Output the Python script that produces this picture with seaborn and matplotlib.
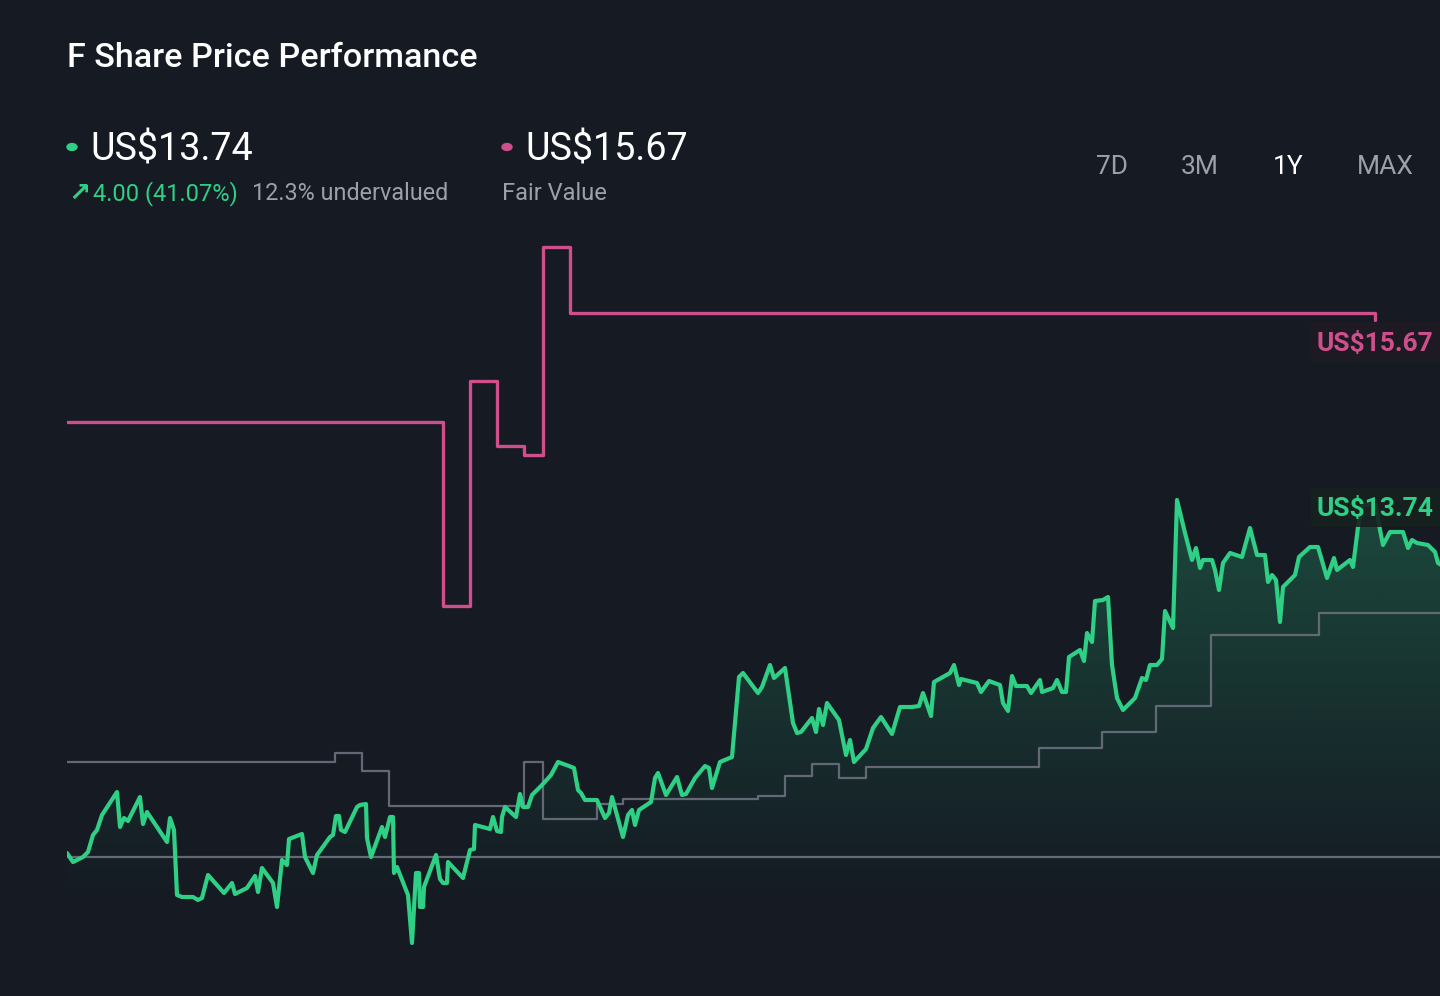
import matplotlib.pyplot as plt
import matplotlib.patches as mpatches
import numpy as np
import pandas as pd
import seaborn as sns

BG = "#151a23"
GREEN = "#2fcf85"
PINK = "#cf4f8d"
GREY_LINE = "#626975"
GREY_TEXT = "#9ba1aa"

# share price, days since start of the 1Y window (US$)
price_day = [0, 1.5, 4, 5.25, 6.5, 7.5, 8.75, 12.5, 13.25, 14.25, 15.25, 18.25, 19, 20, 25, 25.75,
             26.75, 27.5, 28.75, 31.5, 32.75, 33.75, 35.25, 39.25, 41.25, 42, 45, 47, 47.75, 48.75,
             51.5, 52.5, 53.75, 55, 55.5, 58.75, 59.5, 61.5, 62.5, 65.75, 66.5, 67.25, 68, 68.5, 69.5,
             72.5, 73.25, 74.75, 75, 76, 78.75, 79.5, 80.75, 81.5, 81.75, 82.5, 85.25, 86.25, 87.25,
             88, 88.25, 89, 89.25, 92.25, 93.25, 94, 95, 95.25, 99, 100.75, 101.75, 102, 105.75, 106.5,
             107.5, 108.5, 108.75, 109.5, 112.25, 113.25, 114, 115.25, 116.25, 118.75, 121, 122.75,
             125.5, 126.75, 127.75, 128.5, 129.5, 132.5, 134.5, 135.5, 136.25, 139, 140.25, 141.25,
             142, 143, 146, 147, 147.75, 149.75, 152.5, 153.75, 154.75, 157, 159.5, 160.5, 161.25,
             163.25, 166.25, 168, 169, 172.75, 173.75, 175.75, 176.75, 179.5, 181.5, 182.5, 183.5,
             186.25, 187.25, 188, 189, 190, 193, 194.75, 195.75, 196.75, 199.75, 201.5, 203.5, 206.25,
             208.25, 211.25, 213, 214, 216, 216.75, 220.75, 221.75, 223, 223.5, 227.5, 228.5, 230.5,
             233.25, 234, 235.25, 236.25, 237.25, 240, 241, 243.25, 243.75, 246.5, 247.5, 248.75,
             249.75, 250.5, 253.25, 254.25, 255, 256.25, 257, 259, 260.25, 261.25, 262.5, 264, 267,
             268.75, 269.75, 270.75, 272.5, 273.75, 274.5, 276.5, 277.5, 279.5, 281.25, 282.25, 283.25,
             284, 286.25, 287, 288, 289, 290.75, 293.75, 295.75, 297.5, 299.5, 300.25, 301.25, 302.25,
             303.25, 304, 307, 308, 310.75, 312.75, 315, 316.75, 317.5, 320.75, 321.5, 322.75, 323.75,
             327.25, 328.25, 329, 330.75, 334, 335.25, 336.25, 337.5, 340.25, 342, 342.75, 344]
price_usd = [9.78, 9.69, 9.74, 9.79, 9.96, 10.01, 10.16, 10.39, 10.04, 10.13, 10.10, 10.34, 10.07, 10.19, 9.89, 10.13,
             10.01, 9.36, 9.34, 9.34, 9.31, 9.33, 9.56, 9.38, 9.48, 9.37, 9.43, 9.55, 9.39, 9.63,
             9.48, 9.24, 9.71, 9.66, 9.92, 9.97, 9.74, 9.58, 9.76, 9.94, 9.96, 10.15, 10.15, 10.01, 9.99,
             10.24, 10.26, 10.27, 9.93, 9.74, 10.04, 9.94, 10.14, 10.14, 9.58, 9.64, 9.36, 8.88, 9.58,
             9.58, 9.24, 9.24, 9.44, 9.76, 9.52, 9.48, 9.48, 9.69, 9.53, 9.81, 9.82, 10.06, 10.02, 10.14,
             10.00, 9.99, 10.14, 10.24, 10.14, 10.37, 10.24, 10.24, 10.36, 10.46, 10.56, 10.69,
             10.65, 10.63, 10.41, 10.38, 10.31, 10.31, 10.13, 10.18, 10.34, 9.94, 10.16, 10.21,
             10.06, 10.21, 10.29, 10.53, 10.58, 10.36, 10.54, 10.36, 10.37, 10.53, 10.65, 10.63, 10.43,
             10.69, 10.74, 11.54, 11.58, 11.38, 11.44, 11.66, 11.53, 11.63, 11.08, 10.98, 10.99,
             11.13, 10.99, 11.22, 11.06, 11.28, 11.11, 10.76, 10.91, 10.69, 10.82, 11.03, 11.14, 10.97,
             11.24, 11.24, 11.25, 11.38, 11.15, 11.49, 11.58, 11.66, 11.46, 11.52, 11.48, 11.39, 11.50,
             11.46, 11.28, 11.20, 11.55, 11.45, 11.45, 11.38, 11.51, 11.39, 11.43, 11.51, 11.39,
             11.39, 11.74, 11.81, 11.70, 11.98, 11.89, 12.30, 12.31, 12.34, 11.66, 11.33, 11.21, 11.33,
             11.53, 11.51, 11.66, 11.66, 11.72, 12.20, 12.03, 13.31, 12.98, 12.71, 12.83, 12.63,
             12.71, 12.71, 12.61, 12.41, 12.68, 12.78, 12.74, 13.03, 12.76, 12.76, 12.49, 12.56, 12.51,
             12.09, 12.44, 12.56, 12.74, 12.84, 12.84, 12.53, 12.73, 12.61, 12.71, 12.64, 13.04, 13.26,
             13.26, 13.01, 12.86, 12.99, 12.99, 12.83, 12.91, 12.88, 12.86, 12.79, 12.68, 12.65]

# fair value estimate (step changes)
fair_day = [0, 94, 100.75, 107.5, 114.25, 119, 125.75, 327]
fair_usd = [14.09, 12.25, 14.50, 13.85, 13.76, 15.84, 15.18, 15.11]

# grey comparison series (step changes)
grey_day = [0, 67, 73.75, 80.5, 114.25, 119, 132.5, 139, 172.75, 179.5, 186.25, 193, 199.75,
            243, 258.75, 272.25, 286, 313, 345]
grey_usd = [10.69, 10.78, 10.60, 10.25, 10.69, 10.12, 10.27, 10.32, 10.35, 10.55, 10.67, 10.53,
            10.64, 10.83, 10.99, 11.25, 11.96, 12.18, 12.18]

start_price = 9.74
last_price = 13.74
fair_value = 15.67
fill_floor = 9.26

title = "F Share Price Performance"
change_text = "4.00 (41.07%)"
valuation_text = "12.3% undervalued"
periods = ["7D", "3M", "1Y", "MAX"]
active_period = "1Y"

sns.set_theme(style="dark", rc={"axes.facecolor": BG, "figure.facecolor": BG})
plt.rcParams["font.family"] = ["Roboto", "DejaVu Sans"]

W, H = 1440, 996
fig = plt.figure(figsize=(W / 100, H / 100), dpi=100)
fig.patch.set_facecolor(BG)


def fx(x):
    return x / W


def fy(y):
    return 1 - y / H


ax = fig.add_axes([fx(67), 0, 1 - fx(67), 1])
ax.set_facecolor(BG)

df_price = pd.DataFrame({"day": price_day, "price": price_usd})
df_fair = pd.DataFrame({"day": fair_day, "price": fair_usd})
df_grey = pd.DataFrame({"day": grey_day, "price": grey_usd})

# gradient fill under the price line
day = np.array(price_day)
usd = np.array(price_usd)
poly = ax.fill_between(day, np.maximum(usd, fill_floor), fill_floor,
                       facecolor="none", edgecolor="none")
rgb = np.array(plt.matplotlib.colors.to_rgb(GREEN))
grad = np.zeros((256, 1, 4))
grad[:, 0, :3] = rgb
grad[:, 0, 3] = np.linspace(0.0, 0.26, 256)
im = ax.imshow(grad, extent=[day.min(), day.max(), fill_floor, usd.max()],
               origin="lower", aspect="auto", zorder=1, interpolation="bilinear")
im.set_clip_path(poly.get_paths()[0], transform=ax.transData)

ax.axhline(start_price, color=GREY_LINE, lw=1.6, zorder=2)
sns.lineplot(data=df_grey, x="day", y="price", ax=ax, color=GREY_LINE, lw=1.6,
             drawstyle="steps-post", estimator=None, zorder=2)
sns.lineplot(data=df_fair, x="day", y="price", ax=ax, color=PINK, lw=2.4,
             drawstyle="steps-post", estimator=None, zorder=3)
sns.lineplot(data=df_price, x="day", y="price", ax=ax, color=GREEN, lw=3,
             estimator=None, zorder=4)

ax.set_xlim(0, 343.25)
ax.set_ylim(8.35, 18.31)
ax.axis("off")

# header
fig.text(fx(67), fy(67), title, color="white", fontsize=24.6, fontweight="medium")

fig.patches.append(mpatches.Circle((fx(72), fy(147)), 5 / W, color=GREEN,
                                   transform=fig.transFigure, figure=fig))
fig.text(fx(90), fy(161), f"US${last_price:.2f}", color="white", fontsize=27.2)
fig.text(fx(68), fy(201), "↗", color=GREEN, fontsize=19, fontweight="bold",
         family=["DejaVu Sans"])
fig.text(fx(93), fy(200), change_text, color=GREEN, fontsize=17)
fig.text(fx(252), fy(200), valuation_text, color=GREY_TEXT, fontsize=16.8)

fig.patches.append(mpatches.Circle((fx(507), fy(147)), 5 / W, color=PINK,
                                   transform=fig.transFigure, figure=fig))
fig.text(fx(525), fy(161), f"US${fair_value:.2f}", color="white", fontsize=27.2)
fig.text(fx(502), fy(200), "Fair Value", color=GREY_TEXT, fontsize=17)

for label, cx in zip(periods, [1112, 1200, 1288, 1385]):
    fig.text(fx(cx), fy(174), label, ha="center", fontsize=19,
             color="white" if label == active_period else GREY_TEXT)

# end-of-line value tags
for value, col, top, bot, face in [(fair_value, PINK, 322, 362, "#1f1a23"),
                                   (last_price, GREEN, 488, 527, "#17211f")]:
    box = mpatches.FancyBboxPatch((fx(1311), fy(bot)), fx(140), (bot - top) / H,
                                  boxstyle="round,pad=0,rounding_size=0.004",
                                  transform=fig.transFigure, facecolor=face,
                                  edgecolor="none", alpha=0.9, zorder=5)
    fig.patches.append(box)
    fig.text(fx(1316), fy(bot - 11), f"US${value:.2f}", color=col, fontsize=19,
             fontweight="bold", zorder=6)

fig.savefig("out.png", dpi=100, facecolor=BG)
